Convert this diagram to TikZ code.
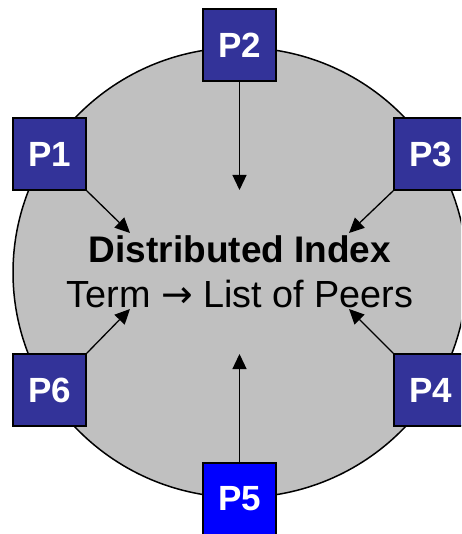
\documentclass[tikz,border=0pt]{standalone}
\usepackage{fontspec}
\setmainfont{Liberation Sans}
\newfontfamily\arrowfont{DejaVu Sans}
\usetikzlibrary{arrows.meta}
\definecolor{peer}{HTML}{333399}
\definecolor{peerhi}{HTML}{0000FF}
\definecolor{disk}{HTML}{C0C0C0}
\begin{document}
\begin{tikzpicture}[x=1pt,y=-1pt,
  peerbox/.style={draw=black, line width=1.5pt, fill=peer, minimum width=73pt,
    minimum height=72pt, inner sep=0pt, text=white,
    font=\fontsize{35}{35}\selectfont\bfseries},
  link/.style={line width=1.3pt, -{Triangle[length=15pt,width=14pt]}},
  bigtext/.style={anchor=base, inner sep=0pt, font=\fontsize{37.8}{37.8}\selectfont}]
\useasboundingbox (0,0) rectangle (461,534);
\clip (0,0) rectangle (461,534);
\draw[fill=disk, line width=1.5pt] (240,272.5) ellipse [x radius=227, y radius=225];
\node[bigtext, font=\fontsize{37}{37}\selectfont\bfseries] (title) at (240,262) {Distributed Index};
\node[bigtext] (map) at (240,307) {Term {\arrowfont →} List of Peers};
\node[peerbox] (p1) at (49.5,154) {P1};
\node[peerbox] (p2) at (239.5,45) {P2};
\node[peerbox] (p3) at (430.5,154) {P3};
\node[peerbox] (p4) at (430.5,390) {P4};
\node[peerbox, fill=peerhi] (p5) at (239.5,499) {P5};
\node[peerbox] (p6) at (49.5,390) {P6};
\coordinate (t1) at (130,233);
\coordinate (t2) at (239.5,190);
\coordinate (t3) at (349,233);
\coordinate (t4) at (349,309);
\coordinate (t5) at (239.5,354);
\coordinate (t6) at (130,309);
\draw[link] (p1.south east) -- (t1);
\draw[link] (p2.south) -- (t2);
\draw[link] (p3.south west) -- (t3);
\draw[link] (p4.north west) -- (t4);
\draw[link] (p5.north) -- (t5);
\draw[link] (p6.north east) -- (t6);
\end{tikzpicture}
\end{document}
